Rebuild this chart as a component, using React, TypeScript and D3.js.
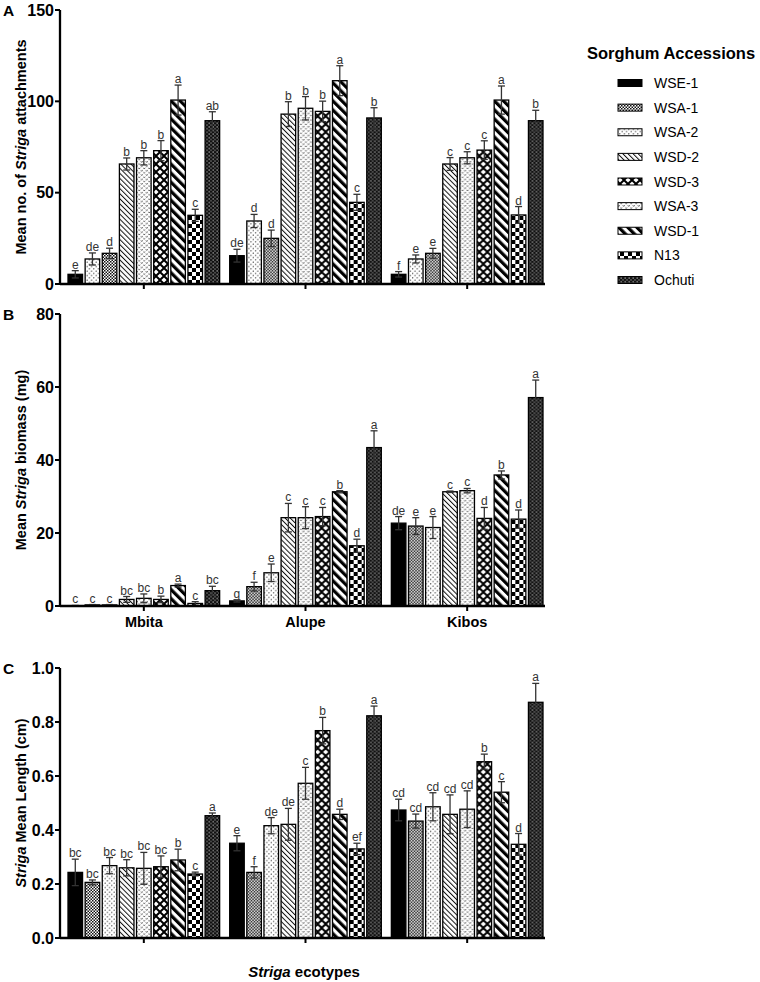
import React from "react";
import * as d3 from "d3";

// legend order
const accessions = ["WSE-1", "WSA-1", "WSA-2", "WSD-2", "WSD-3", "WSA-3", "WSD-1", "N13", "Ochuti"];
const sites = ["Mbita", "Alupe", "Kibos"];

// bar order inside each group (differs between panel A and B/C)
const orderA = ["WSE-1", "WSA-2", "WSA-1", "WSD-2", "WSA-3", "WSD-3", "WSD-1", "N13", "Ochuti"];
const orderBC = ["WSE-1", "WSA-1", "WSA-2", "WSD-2", "WSA-3", "WSD-3", "WSD-1", "N13", "Ochuti"];

// A: mean no. of Striga attachments
const attachMbita = [5.3, 13.7, 16.8, 65.7, 69.1, 73.0, 100.7, 37.6, 89.4];
const attachMbitaErr = [2.0, 3.3, 2.8, 3.3, 3.9, 5.5, 8.2, 3.3, 4.9];
const attachMbitaLet = ["e", "de", "d", "b", "b", "b", "a", "c", "ab"];
const attachAlupe = [15.5, 34.5, 25.0, 93.0, 96.2, 94.5, 111.3, 44.7, 90.9];
const attachAlupeErr = [3.5, 3.6, 4.5, 6.8, 6.4, 5.6, 8.2, 4.4, 5.6];
const attachAlupeLet = ["de", "d", "d", "b", "b", "b", "a", "c", "b"];
const attachKibos = [5.3, 13.7, 16.8, 65.7, 69.1, 73.3, 100.7, 37.8, 89.4];
const attachKibosErr = [1.5, 2.2, 2.7, 3.5, 3.3, 5.1, 7.7, 4.6, 5.7];
const attachKibosLet = ["f", "e", "e", "c", "c", "c", "a", "d", "b"];

// B: mean Striga biomass (mg)
const biomassMbita = [0.1, 0.3, 0.3, 1.8, 2.1, 1.8, 5.6, 0.7, 4.2];
const biomassMbitaErr = [0.05, 0.1, 0.1, 0.8, 1.2, 0.9, 0.4, 0.5, 1.2];
const biomassMbitaLet = ["c", "c", "c", "bc", "bc", "b", "a", "c", "bc"];
const biomassAlupe = [1.4, 5.3, 9.1, 24.2, 24.2, 24.5, 31.3, 16.5, 43.4];
const biomassAlupeErr = [0.3, 1.2, 2.4, 3.9, 3.0, 2.5, 0.3, 1.8, 4.6];
const biomassAlupeLet = ["g", "f", "e", "c", "c", "c", "b", "d", "a"];
const biomassKibos = [22.7, 21.9, 21.5, 31.3, 31.6, 24.0, 35.9, 23.8, 57.1];
const biomassKibosErr = [1.8, 2.3, 3.0, 0.2, 0.6, 3.0, 1.1, 2.5, 4.8];
const biomassKibosLet = ["de", "e", "e", "c", "c", "d", "b", "d", "a"];

// C: Striga mean length (cm)
const lengthMbita = [0.243, 0.206, 0.268, 0.26, 0.258, 0.264, 0.289, 0.237, 0.453];
const lengthMbitaErr = [0.049, 0.009, 0.03, 0.03, 0.059, 0.04, 0.04, 0.007, 0.01];
const lengthMbitaLet = ["bc", "bc", "bc", "bc", "bc", "bc", "b", "c", "a"];
const lengthAlupe = [0.351, 0.243, 0.416, 0.421, 0.573, 0.768, 0.458, 0.33, 0.823];
const lengthAlupeErr = [0.028, 0.021, 0.03, 0.059, 0.059, 0.049, 0.019, 0.021, 0.036];
const lengthAlupeLet = ["e", "f", "de", "de", "c", "b", "d", "ef", "a"];
const lengthKibos = [0.474, 0.433, 0.486, 0.458, 0.477, 0.653, 0.54, 0.347, 0.873];
const lengthKibosErr = [0.04, 0.026, 0.052, 0.072, 0.068, 0.028, 0.039, 0.04, 0.07];
const lengthKibosLet = ["cd", "cd", "cd", "cd", "cd", "b", "c", "d", "a"];

const ticksA = [0, 50, 100, 150];
const ticksB = [0, 20, 40, 60, 80];
const ticksC = [0, 0.2, 0.4, 0.6, 0.8, 1.0];

const patternId: Record<string, string> = {
  "WSE-1": "p-wse1",
  "WSA-1": "p-wsa1",
  "WSA-2": "p-wsa2",
  "WSD-2": "p-wsd2",
  "WSD-3": "p-wsd3",
  "WSA-3": "p-wsa3",
  "WSD-1": "p-wsd1",
  N13: "p-n13",
  Ochuti: "p-ochuti",
};

const FONT = "'Liberation Sans', Arial, sans-serif";
const AXIS_LEFT = 60;
const AXIS_RIGHT = 545;

const x0 = d3.scaleBand<string>().domain(sites).range([68, 543]).paddingInner(0.062);

type Group = { values: number[]; errs: number[]; letters: string[] };

type PanelProps = {
  top: number;
  bottom: number;
  yMax: number;
  ticks: number[];
  fmt: (v: number) => string;
  order: string[];
  groups: Group[];
  label: string;
  title: React.ReactNode;
  siteLabels?: boolean;
};

const Panel = ({ top, bottom, yMax, ticks, fmt, order, groups, label, title, siteLabels }: PanelProps) => {
  const y = d3.scaleLinear().domain([0, yMax]).range([bottom, top]);
  const x1 = d3.scaleBand<string>().domain(order).range([0, x0.bandwidth()]).paddingInner(0.15);
  const bw = x1.bandwidth();
  return (
    <g>
      <text x={3} y={top + 6} fontFamily={FONT} fontWeight="bold" fontSize={15.5}>
        {label}
      </text>
      <text
        transform={`translate(26,${(top + bottom) / 2}) rotate(-90)`}
        textAnchor="middle"
        fontFamily={FONT}
        fontWeight="bold"
        fontSize={14.5}
      >
        {title}
      </text>
      {sites.map((s, gi) => (
        <g key={s} transform={`translate(${x0(s)},0)`}>
          {order.map((a, i) => {
            const v = groups[gi].values[i];
            const e = groups[gi].errs[i];
            const bx = x1(a)!;
            const cx = bx + bw / 2;
            return (
              <g key={a}>
                <rect
                  x={bx}
                  y={y(v)}
                  width={bw}
                  height={Math.max(0, y(0) - y(v))}
                  fill={`url(#${patternId[a]})`}
                  stroke="#000"
                  strokeWidth={1.3}
                />
                <g stroke="#333" strokeWidth={1.3}>
                  <line x1={cx} x2={cx} y1={y(Math.max(0, v - e))} y2={y(v + e)} />
                  <line x1={cx - 3.5} x2={cx + 3.5} y1={y(v + e)} y2={y(v + e)} />
                  <line x1={cx - 3.5} x2={cx + 3.5} y1={y(Math.max(0, v - e))} y2={y(Math.max(0, v - e))} />
                </g>
                <text
                  x={cx}
                  y={y(v + e) - 2}
                  textAnchor="middle"
                  fontFamily={FONT}
                  fontSize={12}
                  fill="#333"
                >
                  {groups[gi].letters[i]}
                </text>
              </g>
            );
          })}
        </g>
      ))}
      {/* y axis */}
      <line x1={AXIS_LEFT} x2={AXIS_LEFT} y1={top} y2={bottom} stroke="#000" strokeWidth={2.3} />
      {ticks.map((t) => (
        <g key={t}>
          <line x1={AXIS_LEFT - 5} x2={AXIS_LEFT} y1={y(t)} y2={y(t)} stroke="#000" strokeWidth={2} />
          <text
            x={AXIS_LEFT - 6}
            y={y(t)}
            dy="0.36em"
            textAnchor="end"
            fontFamily={FONT}
            fontWeight="bold"
            fontSize={16}
          >
            {fmt(t)}
          </text>
        </g>
      ))}
      {/* x axis */}
      <line x1={AXIS_LEFT} x2={AXIS_RIGHT} y1={bottom} y2={bottom} stroke="#000" strokeWidth={2.3} />
      {sites.map((s) => {
        const cx = x0(s)! + x0.bandwidth() / 2;
        return (
          <g key={s}>
            <line x1={cx} x2={cx} y1={bottom} y2={bottom + 5} stroke="#000" strokeWidth={2} />
            {siteLabels && (
              <text x={cx} y={bottom + 21} textAnchor="middle" fontFamily={FONT} fontWeight="bold" fontSize={14.5}>
                {s}
              </text>
            )}
          </g>
        );
      })}
    </g>
  );
};

const Patterns = () => (
  <defs>
    <pattern id="p-wse1" width={4} height={4} patternUnits="userSpaceOnUse">
      <rect width={4} height={4} fill="#000" />
    </pattern>
    <pattern id="p-wsa1" width={3} height={3} patternUnits="userSpaceOnUse">
      <rect width={3} height={3} fill="#fff" />
      <rect width={1.5} height={1.5} fill="#111" />
      <rect x={1.5} y={1.5} width={1.5} height={1.5} fill="#111" />
    </pattern>
    <pattern id="p-wsa2" width={4.5} height={4.5} patternUnits="userSpaceOnUse">
      <rect width={4.5} height={4.5} fill="#fff" />
      <circle cx={1.1} cy={1.1} r={0.6} fill="#222" />
      <circle cx={3.35} cy={3.35} r={0.6} fill="#222" />
    </pattern>
    <pattern id="p-wsd2" width={3.6} height={3.6} patternUnits="userSpaceOnUse" patternTransform="rotate(-45)">
      <rect width={3.6} height={3.6} fill="#fff" />
      <rect width={1} height={3.6} fill="#111" />
    </pattern>
    <pattern id="p-wsa3" width={5} height={4.4} patternUnits="userSpaceOnUse">
      <rect width={5} height={4.4} fill="#fff" />
      <path d="M0.3,0.6 L1.25,1.8 L2.2,0.6 M2.8,2.8 L3.75,4 L4.7,2.8" stroke="#444" strokeWidth={0.8} fill="none" />
    </pattern>
    <pattern id="p-wsd3" width={8} height={8} patternUnits="userSpaceOnUse">
      <rect width={8} height={8} fill="#000" />
      <polygon points="4,1.4 6.6,4 4,6.6 1.4,4" fill="#fff" />
      <polygon points="0,-2.6 2.6,0 0,2.6 -2.6,0" fill="#fff" />
      <polygon points="8,-2.6 10.6,0 8,2.6 5.4,0" fill="#fff" />
      <polygon points="0,5.4 2.6,8 0,10.6 -2.6,8" fill="#fff" />
      <polygon points="8,5.4 10.6,8 8,10.6 5.4,8" fill="#fff" />
    </pattern>
    <pattern id="p-wsd1" width={6.4} height={6.4} patternUnits="userSpaceOnUse" patternTransform="rotate(-45)">
      <rect width={6.4} height={6.4} fill="#fff" />
      <rect width={3.2} height={6.4} fill="#000" />
    </pattern>
    <pattern id="p-n13" width={8} height={8} patternUnits="userSpaceOnUse">
      <rect width={8} height={8} fill="#fff" />
      <rect width={4} height={4} fill="#000" />
      <rect x={4} y={4} width={4} height={4} fill="#000" />
    </pattern>
    <pattern id="p-ochuti" width={4} height={3.6} patternUnits="userSpaceOnUse">
      <rect width={4} height={3.6} fill="#111" />
      <rect x={0.4} y={0.5} width={1.6} height={0.8} fill="#ddd" />
      <rect x={2.4} y={2.3} width={1.2} height={0.8} fill="#ddd" />
    </pattern>
  </defs>
);

const Striga = () => <tspan fontStyle="italic">Striga</tspan>;

export default function App() {
  const legendY = d3.scalePoint<string>().domain(accessions).range([83, 280]);
  const fmt0 = d3.format("d");
  const fmt1 = d3.format(".1f");
  return (
    <svg width={760} height={982} style={{ position: "absolute", left: 0, top: 0, background: "#fff" }}>
      <Patterns />
      <rect width={760} height={982} fill="#fff" />
      <Panel
        top={10}
        bottom={284}
        yMax={150}
        ticks={ticksA}
        fmt={fmt0}
        order={orderA}
        label="A"
        title={
          <>
            Mean no. of <Striga /> attachments
          </>
        }
        groups={[
          { values: attachMbita, errs: attachMbitaErr, letters: attachMbitaLet },
          { values: attachAlupe, errs: attachAlupeErr, letters: attachAlupeLet },
          { values: attachKibos, errs: attachKibosErr, letters: attachKibosLet },
        ]}
      />
      <Panel
        top={314}
        bottom={606}
        yMax={80}
        ticks={ticksB}
        fmt={fmt0}
        order={orderBC}
        label="B"
        siteLabels
        title={
          <>
            Mean <Striga /> biomass (mg)
          </>
        }
        groups={[
          { values: biomassMbita, errs: biomassMbitaErr, letters: biomassMbitaLet },
          { values: biomassAlupe, errs: biomassAlupeErr, letters: biomassAlupeLet },
          { values: biomassKibos, errs: biomassKibosErr, letters: biomassKibosLet },
        ]}
      />
      <Panel
        top={668}
        bottom={938}
        yMax={1.0}
        ticks={ticksC}
        fmt={fmt1}
        order={orderBC}
        label="C"
        title={
          <>
            <Striga /> Mean Length (cm)
          </>
        }
        groups={[
          { values: lengthMbita, errs: lengthMbitaErr, letters: lengthMbitaLet },
          { values: lengthAlupe, errs: lengthAlupeErr, letters: lengthAlupeLet },
          { values: lengthKibos, errs: lengthKibosErr, letters: lengthKibosLet },
        ]}
      />
      <text x={304} y={977} textAnchor="middle" fontFamily={FONT} fontWeight="bold" fontSize={15}>
        <Striga /> ecotypes
      </text>
      {/* legend */}
      <text x={587} y={59} fontFamily={FONT} fontWeight="bold" fontSize={16.5}>
        Sorghum Accessions
      </text>
      {accessions.map((a) => (
        <g key={a}>
          <rect
            x={618}
            y={legendY(a)! - 3.5}
            width={24}
            height={7}
            fill={`url(#${patternId[a]})`}
            stroke="#000"
            strokeWidth={1}
          />
          <text x={654} y={legendY(a)!} dy="0.36em" fontFamily={FONT} fontSize={14}>
            {a}
          </text>
        </g>
      ))}
    </svg>
  );
}
